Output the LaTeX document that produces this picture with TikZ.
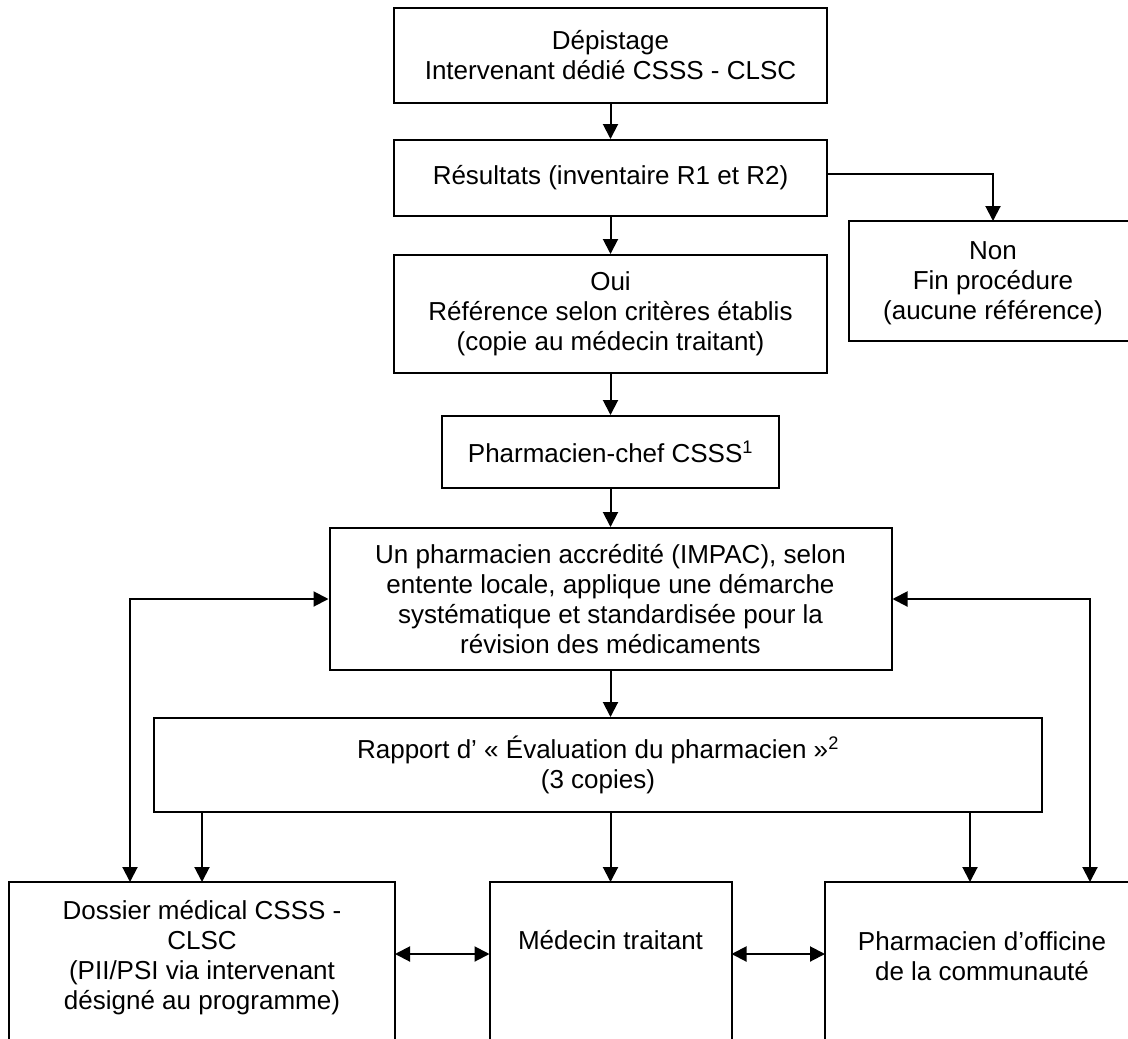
\documentclass[tikz,border=0pt]{standalone}
\usepackage{fontspec}
\setmainfont{Liberation Sans}
\usetikzlibrary{arrows.meta,calc}
\begin{document}
\begin{tikzpicture}[x=1pt,y=-1pt,
  >={Triangle[length=15pt,width=15pt]},
  every path/.style={line width=2pt},
  txt/.style={align=center,inner sep=0pt,font=\fontsize{26}{30}\selectfont},
  box/.style={txt,draw,line width=2pt},
  frame/.style={inner sep=0pt,draw=none},
  conn/.style={->,line width=2pt}]
\useasboundingbox[fill=white] (0,0) rectangle (1128,1039);
\coordinate (R) at (1128,0);
\coordinate (lv) at (130,0);
\coordinate (rv) at (1090,0);
\coordinate (pa) at (970,0);
\coordinate (hy) at (0,954);

\node[box,minimum width=433pt,minimum height=95pt] (dep) at (610.5,55.5)
  {Dépistage\\Intervenant dédié CSSS - CLSC};
\node[box,minimum width=433pt,minimum height=76pt] (res) at (610.5,178)
  {Résultats (inventaire R1 et R2)};
\node[box,minimum width=433pt,minimum height=118pt] (oui) at (610.5,314)
  {Oui\\Référence selon critères établis\\(copie au médecin traitant)};
\node[frame,minimum width=286pt,minimum height=118pt] (non) at (993,281) {};
\node[txt] (nont) at (993,283) {Non\\Fin procédure\\(aucune référence)};
\node[box,minimum width=337pt,minimum height=72pt] (chef) at (610.5,452)
  {Pharmacien-chef CSSS\textsuperscript{1}};
\node[box,minimum width=562pt,minimum height=142pt] (un) at (610.5,599)
  {Un pharmacien accrédité (IMPAC), selon\\entente locale, applique une démarche\\systématique et standardisée pour la\\révision des médicaments};
\node[box,minimum width=888pt,minimum height=94pt] (rap) at (598,765)
  {Rapport d’ « Évaluation du pharmacien »\textsuperscript{2}\\(3 copies)};

\node[frame,minimum width=384pt,minimum height=156pt] (dos) at (202,961) {};
\node[txt] (dost) at (202,957.5) {Dossier médical CSSS -\\CLSC\\(PII/PSI via intervenant\\désigné au programme)};
\node[frame,minimum width=240pt,minimum height=156pt] (med) at (610.5,961) {};
\node[txt] (medt) at (610.5,940) {Médecin traitant};
\node[frame,minimum width=312pt,minimum height=156pt] (pha) at (982,961) {};
\node[txt] (phat) at (982,956) {Pharmacien d’officine\\de la communauté};

% open frames
\draw (non.north west -| R) -- (non.north west) -- (non.south west) -- (non.south west -| R);
\draw (dos.south west) -- (dos.north west) -- (dos.north east) -- (dos.south east);
\draw (med.south west) -- (med.north west) -- (med.north east) -- (med.south east);
\draw (pha.south west) -- (pha.north west) -- (pha.north west -| R);

% connectors
\draw[conn] (dep.south) -- (res.north);
\draw[conn] (res.south) -- (oui.north);
\draw[conn] ([yshift=4pt]res.east) -| (non.north);
\draw[conn] (oui.south) -- (chef.north);
\draw[conn] (chef.south) -- (un.north);
\draw[conn] (un.south) -- (un.south |- rap.north);
\draw[conn] (rap.south -| dos.north) -- (dos.north);
\draw[conn] (rap.south -| med.north) -- (med.north);
\draw[conn] (rap.south -| pa) -- (pa |- pha.north);
\draw[<->] (lv |- dos.north) |- (un.west);
\draw[<->] (un.east) -| (rv |- pha.north);
\draw[<->] (dos.east |- hy) -- (med.west |- hy);
\draw[<->] (med.east |- hy) -- (pha.west |- hy);
\end{tikzpicture}
\end{document}
